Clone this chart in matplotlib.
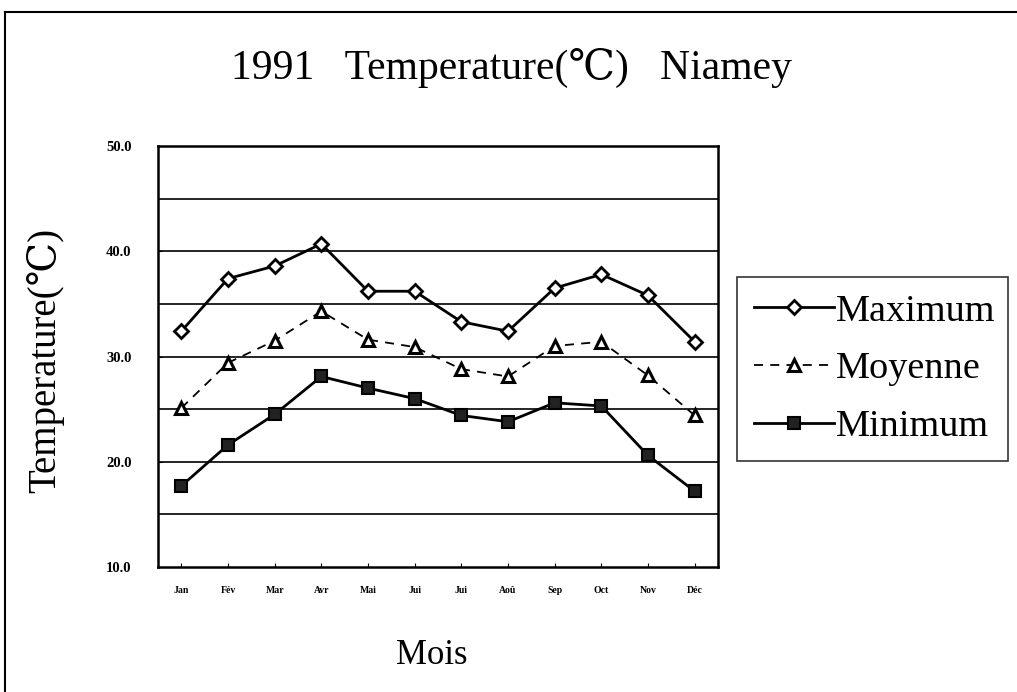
import matplotlib
matplotlib.use("Agg")
import matplotlib.pyplot as plt
from matplotlib.lines import Line2D

# donnees
mois = ["Jan", "Fév", "Mar", "Avr", "Mai", "Jui", "Jui", "Aoû", "Sep", "Oct", "Nov", "Déc"]
maximum = [32.4, 37.4, 38.6, 40.7, 36.2, 36.2, 33.3, 32.4, 36.5, 37.8, 35.8, 31.4]
moyenne = [25.1, 29.4, 31.5, 34.3, 31.6, 30.9, 28.8, 28.1, 31.0, 31.4, 28.2, 24.4]
minimum = [17.7, 21.6, 24.5, 28.1, 27.0, 26.0, 24.4, 23.8, 25.6, 25.3, 20.6, 17.2]
yticks = [10.0, 20.0, 30.0, 40.0, 50.0]
grid_y = [15, 20, 25, 30, 35, 40, 45]

plt.rcParams['font.family'] = ['Liberation Serif', 'DejaVu Serif']

fig = plt.figure(figsize=(10.17, 6.92), dpi=100)
ax = fig.add_axes([158/1017, 1-567/692, 560/1017, 421/692])

x = list(range(len(mois)))
ax.plot(x, maximum, color='black', lw=2, marker='D', ms=7, mfc='white',
        mec='black', mew=2, label='Maximum')
ax.plot(x, moyenne, color='black', lw=1.3, ls=(0, (5, 4)), marker='^', ms=8,
        mfc='white', mec='black', mew=2.2, label='Moyenne')
ax.plot(x, minimum, color='black', lw=2, marker='s', ms=8, mfc='#222222',
        mec='black', mew=1.5, label='Minimum')

for g in grid_y:
    ax.axhline(g, color='black', lw=1.2, zorder=0)

ax.set_xlim(-0.5, 11.5)
ax.set_ylim(10, 50)
ax.set_xticks(x)
ax.set_xticklabels(mois, fontsize=7, fontweight='bold')
ax.set_yticks(yticks)
ax.set_yticklabels(["%.1f" % v for v in yticks], fontsize=10.5, fontweight='bold')
ax.tick_params(axis='both', direction='in', length=3)
ax.tick_params(axis='x', pad=14)
ax.tick_params(axis='y', pad=19)
for s in ax.spines.values():
    s.set_linewidth(1.8)

fig.text(0.503, 1-68/692, "1991   Temperature(℃)   Niamey", ha='center', va='center',
         fontsize=30)
fig.text(45/1017, 1-360/692, "Temperature(℃)", rotation=90, ha='center', va='center',
         fontsize=28)
fig.text(432/1017, 1-655/692, "Mois", ha='center', va='center', fontsize=25)

leg = ax.legend(loc='center left', bbox_to_anchor=(737/1017, 1-465/692, 271/1017, 192/692),
                bbox_transform=fig.transFigure, mode='expand', fontsize=27.5,
                frameon=True, fancybox=False, handlelength=2.1, handletextpad=0.05,
                borderpad=0.45, labelspacing=0.6, borderaxespad=0)
leg.get_frame().set_edgecolor('black')
leg.get_frame().set_linewidth(1.2)

# cadre du document scanne (gauche et haut)
fig.add_artist(Line2D([5/1017, 5/1017], [0, 1-12/692], transform=fig.transFigure,
                      color='black', lw=1.5))
fig.add_artist(Line2D([5/1017, 1], [1-12/692, 1-12/692], transform=fig.transFigure,
                      color='black', lw=1.5))

fig.savefig("out.png", dpi=100)
